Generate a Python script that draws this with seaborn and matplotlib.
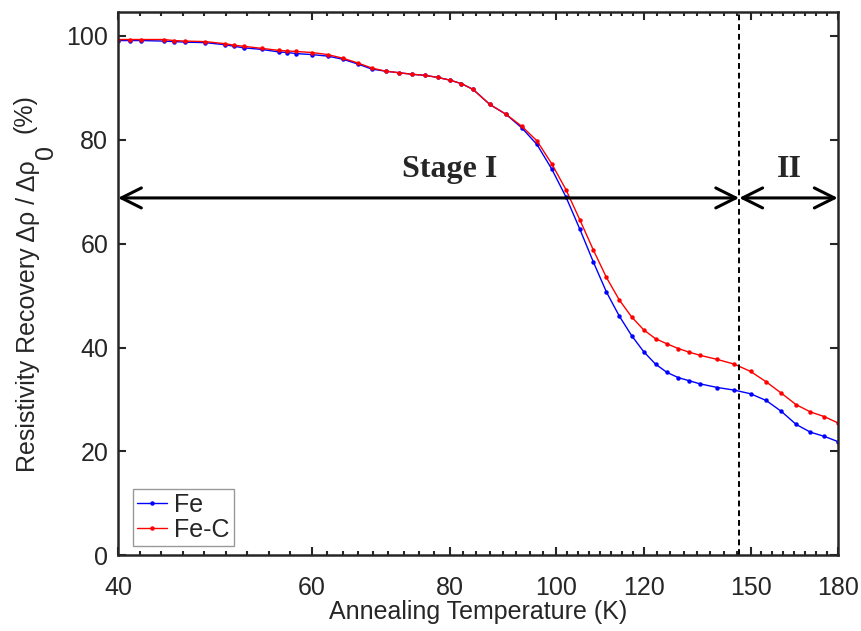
import numpy as np
import pandas as pd
import matplotlib
matplotlib.use("Agg")
import matplotlib.pyplot as plt
from matplotlib.ticker import FixedLocator, NullFormatter
from matplotlib.transforms import IdentityTransform
import seaborn as sns

# Annealing temperatures (K), shared by both series
temps = [40, 41, 42, 44, 45, 46, 48, 50, 51, 52, 54, 56, 57, 58, 60, 62, 64, 66,
         68, 70, 72, 74, 76, 78, 80, 82, 84, 87, 90, 93, 96, 99, 102, 105, 108,
         111, 114, 117, 120, 123, 126, 129, 132, 135, 140, 145, 150, 155, 160,
         165, 170, 175, 180]

# Resistivity recovery (%)
fe = [99.1, 99.1, 99.1, 99.0, 98.9, 98.8, 98.7, 98.3, 98.0, 97.7, 97.4, 96.9,
      96.8, 96.6, 96.4, 96.1, 95.5, 94.6, 93.6, 93.2, 92.9, 92.6, 92.4, 92.0,
      91.5, 90.8, 89.7, 86.8, 84.9, 82.3, 79.1, 74.4, 69.0, 62.8, 56.5, 50.7,
      46.1, 42.3, 39.2, 36.8, 35.2, 34.2, 33.6, 33.0, 32.3, 31.8, 31.1, 29.8,
      27.7, 25.2, 23.7, 22.9, 21.9]
fe_c = [99.3, 99.3, 99.3, 99.3, 99.1, 99.0, 98.9, 98.5, 98.2, 98.0, 97.6, 97.2,
        97.1, 97.0, 96.8, 96.4, 95.7, 94.8, 93.8, 93.2, 92.9, 92.6, 92.4, 92.0,
        91.5, 90.8, 89.7, 86.8, 84.9, 82.6, 79.8, 75.4, 70.4, 64.6, 58.8, 53.5,
        49.2, 45.9, 43.4, 41.7, 40.7, 39.8, 39.1, 38.5, 37.7, 36.8, 35.4, 33.4,
        31.2, 29.0, 27.6, 26.7, 25.5]

x_ticks = [40, 60, 80, 100, 120, 150, 180]
y_ticks = [0, 20, 40, 60, 80, 100]
stage_boundary = 146.5
arrow_level = 68.8

sns.set_theme(style="ticks")
plt.rcParams["font.family"] = ["Liberation Sans", "DejaVu Sans"]
dark = "#262626"
fs = 18

df = pd.DataFrame({
    "T": temps * 2,
    "R": fe + fe_c,
    "sample": ["Fe"] * len(temps) + ["Fe-C"] * len(temps),
})

fig = plt.figure(figsize=(8.61, 6.31), dpi=100)
ax = fig.add_axes([0.137, 0.120, 0.836, 0.861])

sns.lineplot(data=df, x="T", y="R", hue="sample",
             palette={"Fe": "#0000ff", "Fe-C": "#ff0000"},
             marker="o", markersize=3.2, markeredgewidth=0, linewidth=1.0,
             ax=ax)

ax.set_xscale("log")
ax.set_xlim(40, 180)
ax.set_ylim(0, 104.6)
ax.xaxis.set_major_locator(FixedLocator(x_ticks))
ax.set_xticklabels([str(t) for t in x_ticks])
minor = []
for a, b, n in zip(x_ticks[:-1], x_ticks[1:], [9, 9, 8, 8, 8, 8]):
    minor += list(np.geomspace(a, b, n + 1)[1:-1])
ax.xaxis.set_minor_locator(FixedLocator(minor))
ax.xaxis.set_minor_formatter(NullFormatter())
ax.set_yticks(y_ticks)

for s in ax.spines.values():
    s.set_visible(True)
    s.set_linewidth(1.8)
    s.set_color(dark)
ax.tick_params(which="both", direction="in", top=True, right=True,
               color=dark, labelsize=fs, labelcolor=dark)
ax.tick_params(which="major", length=6, width=1.5)
ax.tick_params(which="minor", length=3, width=1.5)
ax.tick_params(axis="x", which="both", pad=15)
ax.tick_params(axis="y", which="both", pad=7)

ax.set_xlabel("Annealing Temperature (K)", fontsize=fs, color=dark,
              labelpad=0)
ax.set_ylabel("")

# stage boundary and arrows
ax.axvline(stage_boundary, color="black", linestyle=(0, (3, 2)), linewidth=1.4)
arrow = dict(arrowstyle="<->,head_length=0.8,head_width=0.4", lw=2.2,
             color="black", mutation_scale=18, shrinkA=0, shrinkB=0)
ax.annotate("", xy=(stage_boundary, arrow_level), xytext=(40, arrow_level),
            arrowprops=arrow)
ax.annotate("", xy=(180, arrow_level), xytext=(stage_boundary, arrow_level),
            arrowprops=arrow)
ax.text(80, 74.2, "Stage I", fontsize=23, fontweight="bold",
        family="Liberation Serif", ha="center", va="center")
ax.text(162.8, 74.2, "II", fontsize=23, fontweight="bold",
        family="Liberation Serif", ha="center", va="center")

leg = ax.legend(loc="lower left", bbox_to_anchor=(0.021, 0.018),
                borderaxespad=0, fontsize=fs, frameon=True, fancybox=False,
                handlelength=1.2, handletextpad=0.3, borderpad=0.15,
                labelspacing=0.05, title=None)
leg.get_frame().set_edgecolor("#808080")
leg.get_frame().set_linewidth(1.0)

# y label in pieces: full-size lowered "0", raised "(%)"
H = 631
base_x = 35
pieces = [("Resistivity Recovery Δρ / Δρ", 0, 1),
          ("0", 18, 12),
          ("(%)", -3.5, 0)]
renderer = fig.canvas.get_renderer()
texts = []
for s, dx, gap in pieces:
    t = fig.text(base_x + dx, 0, s, rotation=90, rotation_mode="anchor",
                 ha="left", va="baseline", fontsize=fs, color=dark,
                 transform=IdentityTransform())
    texts.append((t, gap))
lengths = [t.get_window_extent(renderer).height for t, _ in texts]
total = sum(lengths) + sum(g for _, g in texts[:-1])
y = (H - 283) - total / 2
for (t, gap), L in zip(texts, lengths):
    t.set_y(y)
    y += L + gap

fig.savefig("out.png", dpi=100)
